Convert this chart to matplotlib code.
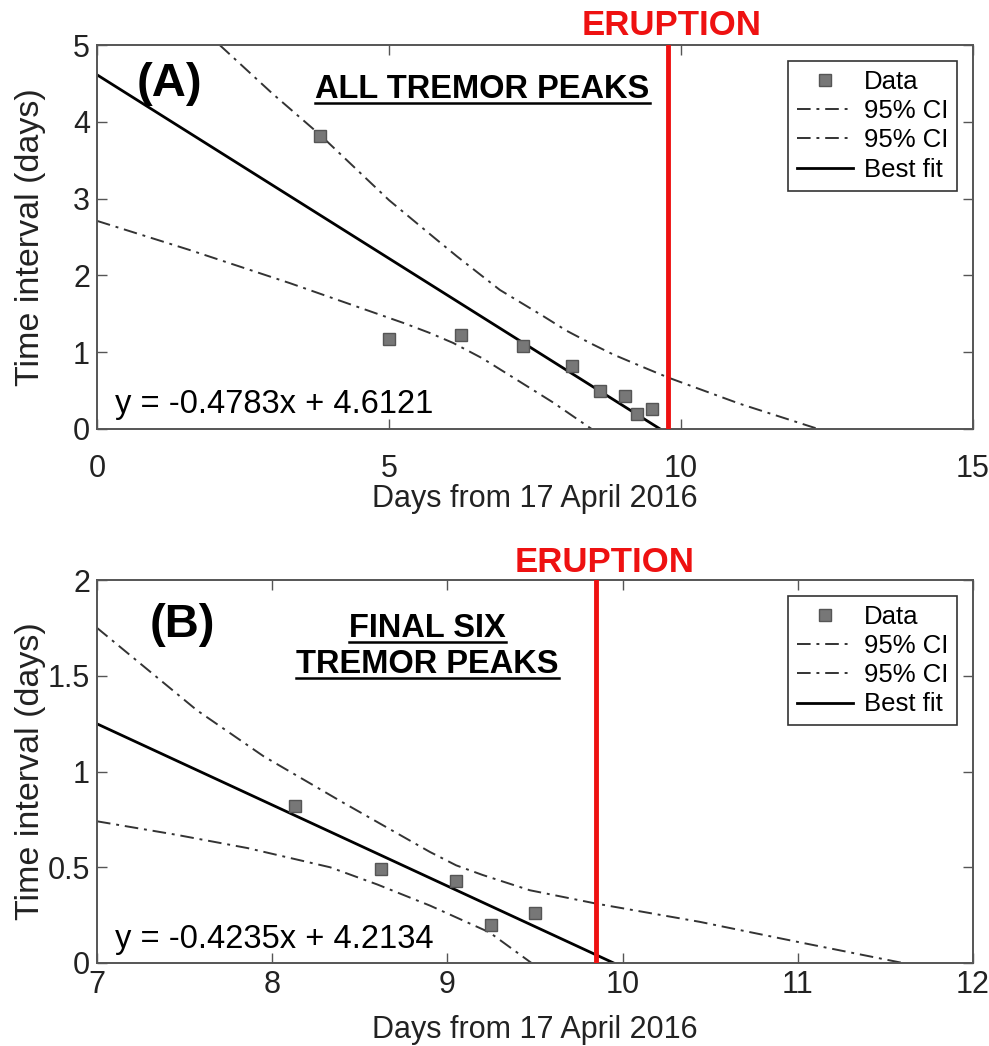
import matplotlib
matplotlib.use('Agg')
import matplotlib.pyplot as plt
import numpy as np
from matplotlib.ticker import FuncFormatter
from matplotlib.lines import Line2D

plt.rcParams['font.family'] = ['Liberation Sans', 'DejaVu Sans']

# ---- panel A : all tremor peaks ----
days_a = [3.82, 5.00, 6.23, 7.29, 8.13, 8.61, 9.04, 9.24, 9.50]
interval_a = [3.82, 1.17, 1.22, 1.08, 0.82, 0.49, 0.43, 0.20, 0.26]
slope_a, icept_a = -0.4783, 4.6121
fit_range_a = [0.0, 9.643]
ci_up_x_a = [2.10, 3.00, 3.82, 5.00, 5.76, 6.16, 6.90, 7.64, 8.04, 8.44, 8.84, 9.40, 9.78, 11.00, 12.35]
ci_up_y_a = [5.00, 4.37, 3.83, 2.98, 2.50, 2.25, 1.81, 1.47, 1.28, 1.12, 0.97, 0.79, 0.67, 0.33, 0.00]
ci_lo_x_a = [0.00, 1.59, 3.30, 5.25, 5.70, 6.10, 6.60, 7.19, 7.80, 8.47]
ci_lo_y_a = [2.71, 2.33, 1.90, 1.38, 1.25, 1.12, 0.92, 0.64, 0.35, 0.00]
eruption_a = 9.78

# ---- panel B : final six tremor peaks ----
days_b = [8.13, 8.62, 9.05, 9.25, 9.50]
interval_b = [0.82, 0.49, 0.43, 0.20, 0.26]
slope_b, icept_b = -0.4235, 4.2134
fit_range_b = [7.0, 9.949]
ci_up_x_b = [7.00, 7.57, 7.95, 8.40, 8.65, 8.90, 9.05, 9.20, 9.47, 9.85, 10.44, 11.00, 11.60]
ci_up_y_b = [1.75, 1.32, 1.08, 0.84, 0.71, 0.58, 0.51, 0.46, 0.38, 0.31, 0.215, 0.11, 0.00]
ci_lo_x_b = [7.00, 7.45, 7.86, 8.33, 8.60, 8.90, 9.24, 9.48]
ci_lo_y_b = [0.74, 0.67, 0.60, 0.50, 0.41, 0.30, 0.16, 0.00]
eruption_b = 9.85

GRAY = '#555555'
CI_DASH = (0, (7, 3, 1.5, 3))

fig = plt.figure(figsize=(9.89, 10.46), dpi=100)
ax_a = fig.add_axes([97/989, 1-429/1046, 876/989, 384/1046])
ax_b = fig.add_axes([97/989, 1-963/1046, 876/989, 383/1046])


def draw_panel(ax, dx, dy, fr, slope, icept, upx, upy, lox, loy, erupt, xpad, xlabpad):
    ax.plot(dx, dy, 's', ms=9, mfc='#777777', mec='#555555', mew=1, label='Data', zorder=3)
    ax.plot(upx, upy, color='#333333', lw=1.4, ls=CI_DASH, label='95% CI')
    ax.plot(lox, loy, color='#333333', lw=1.4, ls=CI_DASH, label='95% CI')
    fx = np.array(fr)
    ax.plot(fx, slope*fx + icept, color='black', lw=2.0, label='Best fit')
    ax.axvline(erupt, color='#ee1111', lw=3.5, zorder=4)
    for s in ax.spines.values():
        s.set_color(GRAY)
        s.set_linewidth(1.4)
    ax.tick_params(direction='in', length=7, width=1, colors=GRAY, labelcolor='#222222',
                   labelsize=22, top=True, right=True)
    ax.tick_params(axis='x', pad=xpad)
    ax.tick_params(axis='y', pad=5)
    ax.yaxis.set_major_formatter(FuncFormatter(lambda v, p: '%g' % v))
    ax.set_xlabel('Days from 17 April 2016', fontsize=22, color='#222222', labelpad=xlabpad)
    ax.set_ylabel('Time interval (days)', fontsize=24.5, color='#222222')
    ax.yaxis.set_label_coords(-0.058, 0.5)
    leg = ax.legend(loc='upper right', bbox_to_anchor=(0.9817, 0.958), borderaxespad=0,
                    fontsize=18.5, numpoints=1, handlelength=2.2, handletextpad=0.4,
                    labelspacing=0.2, borderpad=0.35, fancybox=False, framealpha=1)
    leg.get_frame().set_edgecolor('#333333')
    leg.get_frame().set_linewidth(1.2)


draw_panel(ax_a, days_a, interval_a, fit_range_a, slope_a, icept_a,
           ci_up_x_a, ci_up_y_a, ci_lo_x_a, ci_lo_y_a, eruption_a, 18, 0)
ax_a.set_xlim(0, 15)
ax_a.set_ylim(0, 5)
ax_a.set_xticks([0, 5, 10, 15])
ax_a.set_yticks([0, 1, 2, 3, 4, 5])

draw_panel(ax_b, days_b, interval_b, fit_range_b, slope_b, icept_b,
           ci_up_x_b, ci_up_y_b, ci_lo_x_b, ci_lo_y_b, eruption_b, 5, 11)
ax_b.set_xlim(7, 12)
ax_b.set_ylim(0, 2)
ax_b.set_xticks([7, 8, 9, 10, 11, 12])
ax_b.set_yticks([0, 0.5, 1, 1.5, 2])

# annotations
ax_a.text(0.0457, 0.867, '(A)', transform=ax_a.transAxes, fontsize=34, fontweight='bold')
ax_b.text(0.0605, 0.852, '(B)', transform=ax_b.transAxes, fontsize=34, fontweight='bold')
ax_a.text(0.0205, 0.042, 'y = -0.4783x + 4.6121', transform=ax_a.transAxes, fontsize=23.5)
ax_b.text(0.0205, 0.039, 'y = -0.4235x + 4.2134', transform=ax_b.transAxes, fontsize=23.5)
ax_a.text(0.656, 1.026, 'ERUPTION', transform=ax_a.transAxes, fontsize=25, fontweight='bold',
          color='#ee1111', ha='center', clip_on=False)
ax_b.text(0.579, 1.022, 'ERUPTION', transform=ax_b.transAxes, fontsize=25, fontweight='bold',
          color='#ee1111', ha='center', clip_on=False)

titles = [
    ax_a.text(0.440, 0.862, 'ALL TREMOR PEAKS', transform=ax_a.transAxes, fontsize=23.5,
              fontweight='bold', ha='center'),
    ax_b.text(0.377, 0.851, 'FINAL SIX', transform=ax_b.transAxes, fontsize=23.5,
              fontweight='bold', ha='center'),
    ax_b.text(0.377, 0.757, 'TREMOR PEAKS', transform=ax_b.transAxes, fontsize=23.5,
              fontweight='bold', ha='center'),
]

# underline the bold titles
fig.canvas.draw()
r = fig.canvas.get_renderer()
inv = fig.transFigure.inverted()
for t in titles:
    bb = t.get_window_extent(renderer=r)
    x0, y0 = inv.transform((bb.x0, bb.y0 + 2))
    x1, _ = inv.transform((bb.x1, bb.y0 + 2))
    fig.add_artist(Line2D([x0, x1], [y0, y0], transform=fig.transFigure, color='black', lw=1.8))

fig.savefig('out.png', dpi=100)
